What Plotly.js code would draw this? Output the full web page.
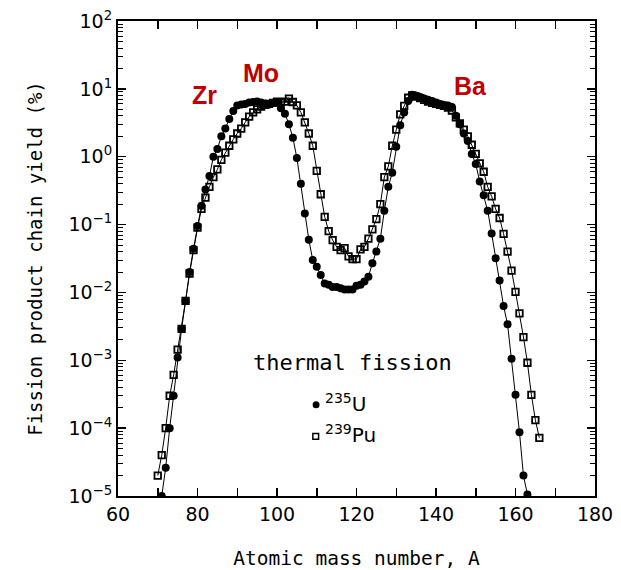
<!DOCTYPE html>
<html>
<head>
<meta charset="utf-8">
<script src="https://cdn.plot.ly/plotly-3.0.1.min.js"></script>
<style>html,body{margin:0;padding:0;background:#fff;}#chart{width:621px;height:570px;}</style>
</head>
<body>
<div id="chart"></div>
<script>
// U-235 thermal fission chain yields (%)
var massU = [71,72,73,74,75,76,77,78,79,80,81,82,83,84,85,86,87,88,89,90,
  91,92,93,94,95,96,97,98,99,100,101,102,103,104,105,106,107,108,109,110,
  111,112,113,114,115,116,117,118,119,120,121,122,123,124,125,126,127,128,129,130,
  131,132,133,134,135,136,137,138,139,140,141,142,143,144,145,146,147,148,149,150,
  151,152,153,154,155,156,157,158,159,160,161,162,163];
var yieldU = [1.0e-5,2.6e-5,1.0e-4,3.0e-4,1.1e-3,2.9e-3,7.5e-3,0.020,0.044,0.095,0.19,0.33,0.52,1.0,1.3,2.0,2.6,3.6,4.7,5.7,
  5.9,6.0,6.3,6.4,6.5,6.3,6.1,5.9,6.2,6.4,5.2,4.3,3.0,1.9,0.96,0.40,0.145,0.060,0.030,0.024,
  0.018,0.0135,0.013,0.012,0.012,0.0115,0.011,0.011,0.011,0.0125,0.013,0.0145,0.017,0.027,0.040,0.062,0.16,0.36,0.58,1.4,
  2.9,4.5,6.6,8.2,7.9,7.6,7.2,6.9,6.6,6.3,6.0,5.8,5.7,5.4,4.0,3.0,2.2,1.7,1.1,0.78,
  0.43,0.27,0.16,0.074,0.032,0.015,0.0063,0.0034,0.00105,3.1e-4,8.7e-5,2.0e-5,1.05e-5];

// Pu-239 thermal fission chain yields (%)
var massPu = [70,71,72,73,74,75,76,77,78,79,80,81,82,83,84,85,86,87,88,89,90,
  91,92,93,94,95,96,97,98,99,100,101,102,103,104,105,106,107,108,109,110,
  111,112,113,114,115,116,117,118,119,120,121,122,123,124,125,126,127,128,129,130,
  131,132,133,134,135,136,137,138,139,140,141,142,143,144,145,146,147,148,149,150,
  151,152,153,154,155,156,157,158,159,160,161,162,163,164,165,166];
var yieldPu = [2.0e-5,4.0e-5,1.0e-4,3.0e-4,6.1e-4,1.44e-3,2.9e-3,7.5e-3,0.019,0.042,0.09,0.17,0.25,0.36,0.50,0.65,0.90,1.15,1.45,1.8,2.2,
  2.6,3.2,3.9,4.5,5.0,5.5,5.8,6.0,6.2,6.5,6.3,6.5,7.2,6.4,5.7,4.5,3.2,2.2,1.45,0.62,
  0.28,0.13,0.08,0.059,0.047,0.042,0.045,0.034,0.031,0.031,0.043,0.047,0.062,0.085,0.12,0.2,0.5,0.72,1.45,2.5,
  4.2,5.6,7.4,8.0,7.7,7.3,6.9,6.5,6.2,6.0,5.8,5.6,5.3,4.8,3.8,3.1,2.5,2.0,1.5,1.1,
  0.8,0.6,0.36,0.26,0.17,0.125,0.073,0.04,0.021,0.0102,0.0049,0.0022,9.2e-4,3.1e-4,1.31e-4,7.2e-5];

var yTickVals = [1e-5,1e-4,1e-3,1e-2,1e-1,1,10,100];
var yTickText = ['10<sup>−5</sup>','10<sup>−4</sup>','10<sup>−3</sup>','10<sup>−2</sup>','10<sup>−1</sup>','10<sup>0</sup>','10<sup>1</sup>','10<sup>2</sup>'];
var xTickVals = [60,80,100,120,140,160,180];
var xTickText = ['60','80','100','120','140','160','180'];

var traces = [
  {x: massPu, y: yieldPu, mode: 'lines+markers', type: 'scatter', showlegend: false,
   line: {color: '#000', width: 1},
   marker: {symbol: 'square-open', size: 6.5, color: '#000', line: {width: 1.8, color: '#000'}}},
  {x: massU, y: yieldU, mode: 'lines+markers', type: 'scatter', showlegend: false,
   line: {color: '#000', width: 1},
   marker: {symbol: 'circle', size: 8, color: '#000'}}
];

var tickFont = {family: 'DejaVu Sans', size: 19, color: '#000'};
var red = '#C00000';

function lab(x, y, text, font, xa) {
  return {xref: 'paper', yref: 'paper', x: x, y: y, text: text, showarrow: false,
          xanchor: xa || 'center', yanchor: 'middle', font: font};
}
var redFont = {family: 'Liberation Sans', size: 25, color: red};
var supFont = {family: 'DejaVu Sans', size: 20, color: '#000'};

var layout = {
  width: 621, height: 570,
  margin: {l: 118, r: 26, t: 21, b: 74},
  paper_bgcolor: '#fff', plot_bgcolor: '#fff',
  showlegend: false,
  xaxis: {range: [60, 180], tickvals: xTickVals, ticktext: xTickText,
    ticks: 'inside', ticklen: 8, tickwidth: 1.5, tickcolor: '#000',
    minor: {dtick: 10, tick0: 0, ticks: 'inside', ticklen: 8, tickwidth: 1.5, tickcolor: '#000', showgrid: false},
    showline: true, linecolor: '#000', linewidth: 2, mirror: 'allticks',
    showgrid: false, zeroline: false, tickfont: tickFont,
    title: {text: 'Atomic mass number, A', font: {family: 'DejaVu Sans Mono', size: 19.5, color: '#000'}, standoff: 31}},
  yaxis: {type: 'log', range: [-5, 2], tickvals: yTickVals, ticktext: yTickText,
    ticks: 'inside', ticklen: 8, tickwidth: 1.5, tickcolor: '#000',
    minor: {dtick: 'D1', ticks: 'inside', ticklen: 5, tickwidth: 1, tickcolor: '#000', showgrid: false},
    showline: true, linecolor: '#000', linewidth: 2, mirror: 'allticks',
    showgrid: false, zeroline: false, tickfont: tickFont,
    title: {text: 'Fission product chain yield (%)', font: {family: 'DejaVu Sans Mono', size: 19, color: '#000'}, standoff: 21}},
  shapes: [
    {type: 'circle', xref: 'paper', yref: 'paper', x0: 0.408, x1: 0.4225, y0: 0.1845, y1: 0.1995,
     fillcolor: '#000', line: {color: '#000', width: 0}},
    {type: 'rect', xref: 'paper', yref: 'paper', x0: 0.4085, x1: 0.4205, y0: 0.1195, y1: 0.1315,
     fillcolor: 'rgba(0,0,0,0)', line: {color: '#000', width: 1.5}}
  ],
  annotations: [
    lab(0.182, 0.844, '<b>Zr</b>', redFont),
    lab(0.300, 0.891, '<b>Mo</b>', redFont),
    lab(0.740, 0.863, '<b>Ba</b>', redFont),
    lab(0.491, 0.282, 'thermal fission', {family: 'DejaVu Sans Mono', size: 22, color: '#000'}),
    lab(0.430, 0.196, '<sup>235</sup>U', supFont, 'left'),
    lab(0.430, 0.131, '<sup>239</sup>Pu', supFont, 'left')
  ]
};

Plotly.newPlot('chart', traces, layout, {staticPlot: true, displayModeBar: false});
</script>
</body>
</html>
